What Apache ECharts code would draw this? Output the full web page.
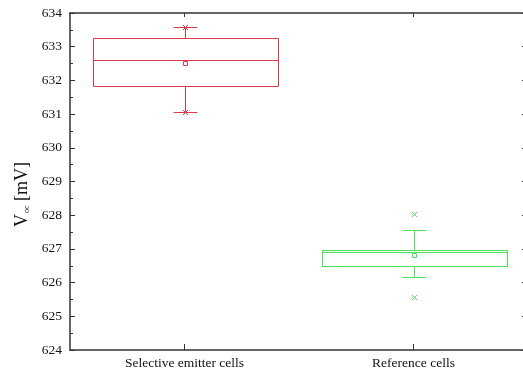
<!DOCTYPE html>
<html>
<head>
<meta charset="utf-8">
<script src="https://cdn.jsdelivr.net/npm/echarts@6/dist/echarts.min.js"></script>
<style>html,body{margin:0;padding:0;background:#fff}#c{width:523px;height:374px}</style>
</head>
<body>
<div id="c"></div>
<script>
const categories = ['Selective emitter cells', 'Reference cells'];
const q1 = [631.83, 626.49];
const median = [632.61, 626.92];
const q3 = [633.27, 626.98];
const whiskerLow = [631.05, 626.16];
const whiskerHigh = [633.58, 627.56];
const meanVal = [632.52, 626.83];
const minMark = [631.05, 625.56];
const maxMark = [633.58, 628.03];
const yTicks = [624, 625, 626, 627, 628, 629, 630, 631, 632, 633, 634];

const groupColors = ['#dc3c48', '#4fde55'];
const font = '"Liberation Serif", "Times New Roman", serif';

const data = categories.map((c, i) => [i, q1[i], median[i], q3[i], whiskerLow[i], whiskerHigh[i], meanVal[i], minMark[i], maxMark[i]]);

function px(v) { return Math.round(v) + 0.5; }

function renderItem(params, api) {
  const i = api.value(0);
  const color = groupColors[params.dataIndex];
  const band = api.size([1, 0])[0];
  const bw = band * 0.81;
  const cw = band * 0.104;
  const cx = px(api.coord([i, api.value(2)])[0]);
  const y = (k) => px(api.coord([i, api.value(k)])[1]);
  const yQ1 = y(1), yMed = y(2), yQ3 = y(3), yLo = y(4), yHi = y(5), yMean = y(6), yMin = y(7), yMax = y(8);
  const x0 = px(cx - bw / 2), x1 = px(cx + bw / 2);
  const st = { stroke: color, lineWidth: 1, fill: null };
  const line = (a, b, c, d) => ({ type: 'line', shape: { x1: a, y1: b, x2: c, y2: d }, style: st });
  const cross = (yy) => [line(cx - 2.5, yy - 2.5, cx + 2.5, yy + 2.5), line(cx - 2.5, yy + 2.5, cx + 2.5, yy - 2.5)];
  const children = [
    { type: 'rect', shape: { x: x0, y: yQ3, width: x1 - x0, height: yQ1 - yQ3 }, style: st },
    line(x0, yMed, x1, yMed),
    line(cx, yQ3, cx, yHi),
    line(cx - cw / 2, yHi, cx + cw / 2, yHi),
    line(cx, yQ1, cx, yLo),
    line(cx - cw / 2, yLo, cx + cw / 2, yLo),
    { type: 'rect', shape: { x: cx - 2, y: yMean - 2, width: 4, height: 4 }, style: st }
  ].concat(cross(yMin), cross(yMax));
  return { type: 'group', children: children };
}

const chart = echarts.init(document.getElementById('c'));
const axisLine = { show: true, lineStyle: { color: '#333', width: 1.5 } };
chart.setOption({
  animation: false,
  backgroundColor: '#fff',
  grid: { left: 70, width: 458, top: 13, bottom: 24, containLabel: false, outerBoundsMode: 'none' },
  xAxis: [
    {
      type: 'category', data: categories, position: 'bottom',
      axisLine: axisLine,
      axisTick: { show: true, inside: true, alignWithLabel: true, length: 6, lineStyle: { color: '#333' } },
      axisLabel: { color: '#111', fontFamily: font, fontSize: 13.5, margin: 6 },
      splitLine: { show: false }
    },
    {
      type: 'category', data: categories, position: 'top',
      axisLine: axisLine,
      axisTick: { show: true, inside: true, alignWithLabel: true, length: 4, lineStyle: { color: '#333' } },
      axisLabel: { show: false },
      splitLine: { show: false }
    }
  ],
  yAxis: [
    {
      type: 'value', min: yTicks[0], max: yTicks[yTicks.length - 1], interval: 1, position: 'left',
      name: '{v|V}{s|oc}{n| [mV]}', nameLocation: 'middle', nameGap: 28, nameRotate: 90,
      nameTextStyle: {
        padding: [0, 26, 0, 0],
        rich: {
          v: { fontFamily: font, fontSize: 18, color: '#111' },
          s: { fontFamily: font, fontSize: 8, color: '#111', verticalAlign: 'bottom', padding: [8, 0, 0, 1] },
          n: { fontFamily: font, fontSize: 18, color: '#111' }
        }
      },
      axisLine: axisLine,
      axisTick: { show: true, inside: true, length: 5, lineStyle: { color: '#333' } },
      minorTick: { show: true, splitNumber: 2, length: 3, lineStyle: { color: '#333' } },
      axisLabel: { color: '#111', fontFamily: font, fontSize: 13.5, margin: 8 },
      splitLine: { show: false }
    },
    {
      type: 'value', min: yTicks[0], max: yTicks[yTicks.length - 1], interval: 1, position: 'right',
      axisLine: axisLine,
      axisTick: { show: true, inside: true, length: 6, lineStyle: { color: '#333' } },
      axisLabel: { show: false },
      splitLine: { show: false }
    }
  ],
  series: [{
    type: 'custom',
    xAxisIndex: 0, yAxisIndex: 0,
    renderItem: renderItem,
    encode: { x: 0, y: [1, 2, 3, 4, 5, 6, 7, 8] },
    data: data
  }]
});
</script>
</body>
</html>
